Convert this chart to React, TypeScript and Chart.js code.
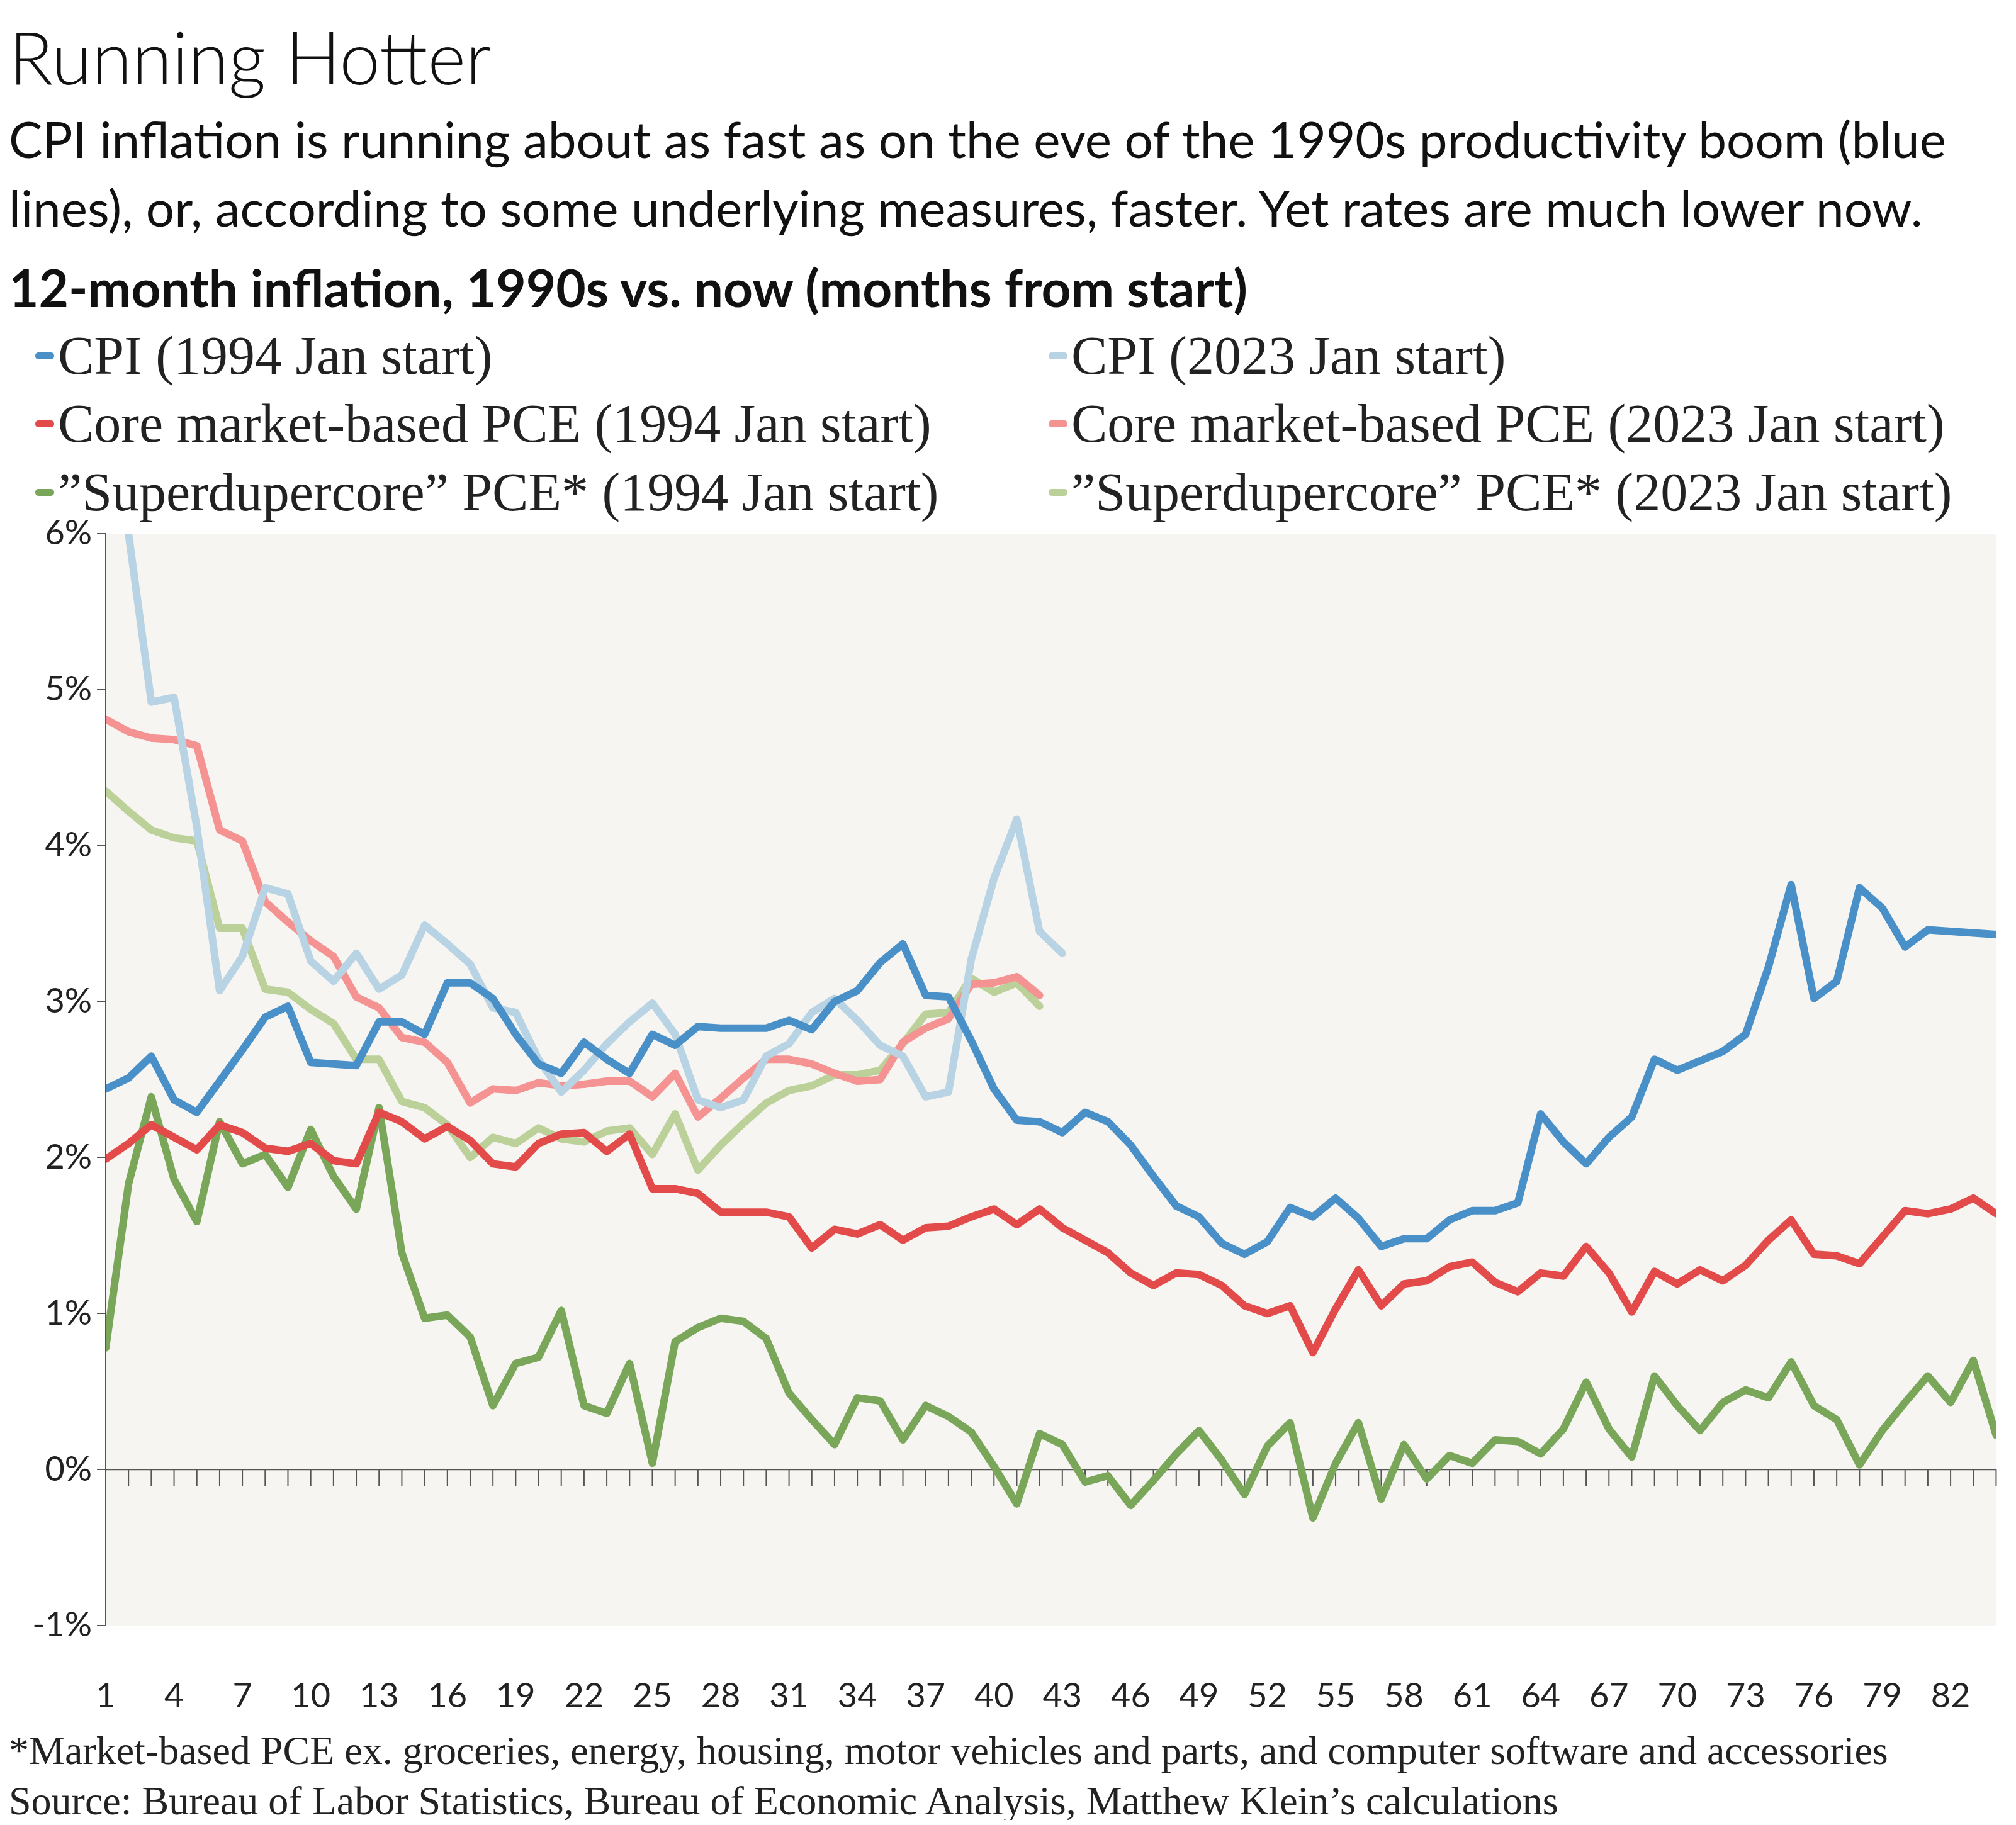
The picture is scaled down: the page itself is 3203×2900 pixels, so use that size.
import React, { useEffect, useRef } from "react";
import { Chart, registerables } from "chart.js";
Chart.register(...registerables);

const months = Array.from({ length: 84 }, (_, i) => i + 1);
const yTicks = [-1, 0, 1, 2, 3, 4, 5, 6];

const cpi1994 = [2.44,2.51,2.65,2.37,2.29,2.49,2.69,2.9,2.97,2.61,2.6,2.59,2.87,2.87,2.79,3.12,3.12,3.02,2.79,2.6,2.54,2.74,2.63,2.54,2.79,2.72,2.84,2.83,2.83,2.83,2.88,2.82,3.0,3.07,3.25,3.37,3.04,3.03,2.75,2.44,2.24,2.23,2.16,2.29,2.23,2.08,1.88,1.69,1.62,1.45,1.38,1.46,1.68,1.62,1.74,1.61,1.43,1.48,1.48,1.6,1.66,1.66,1.71,2.28,2.1,1.96,2.13,2.26,2.63,2.56,2.62,2.68,2.79,3.22,3.75,3.02,3.13,3.73,3.6,3.35,3.46,3.45,3.44,3.43];
const cpi2023 = [6.4,6.0,4.92,4.95,4.12,3.07,3.29,3.73,3.69,3.26,3.13,3.31,3.08,3.17,3.49,3.37,3.24,2.96,2.93,2.63,2.42,2.56,2.73,2.87,2.99,2.79,2.37,2.32,2.37,2.65,2.73,2.93,3.02,2.88,2.72,2.65,2.39,2.42,3.27,3.79,4.17,3.45,3.31];
const core1994 = [1.99,2.09,2.21,2.13,2.05,2.21,2.16,2.06,2.04,2.09,1.98,1.96,2.29,2.23,2.12,2.2,2.11,1.96,1.94,2.09,2.15,2.16,2.04,2.15,1.8,1.8,1.77,1.65,1.65,1.65,1.62,1.42,1.54,1.51,1.57,1.47,1.55,1.56,1.62,1.67,1.57,1.67,1.55,1.47,1.39,1.26,1.18,1.26,1.25,1.18,1.05,1.0,1.05,0.75,1.03,1.28,1.05,1.19,1.21,1.3,1.33,1.2,1.14,1.26,1.24,1.43,1.26,1.01,1.27,1.19,1.28,1.21,1.31,1.47,1.6,1.38,1.37,1.32,1.49,1.66,1.64,1.67,1.74,1.64];
const core2023 = [4.81,4.73,4.69,4.68,4.64,4.1,4.03,3.64,3.51,3.39,3.29,3.03,2.96,2.77,2.74,2.61,2.35,2.44,2.43,2.48,2.46,2.47,2.49,2.49,2.39,2.54,2.26,2.38,2.51,2.63,2.63,2.6,2.54,2.49,2.5,2.74,2.83,2.89,3.11,3.12,3.16,3.04];
const sdc1994 = [0.78,1.83,2.39,1.86,1.59,2.23,1.96,2.02,1.81,2.18,1.88,1.67,2.32,1.39,0.97,0.99,0.85,0.41,0.68,0.72,1.02,0.41,0.36,0.68,0.04,0.82,0.91,0.97,0.95,0.84,0.49,0.32,0.16,0.46,0.44,0.19,0.41,0.34,0.24,0.02,-0.22,0.23,0.16,-0.08,-0.04,-0.23,-0.07,0.1,0.25,0.06,-0.16,0.15,0.3,-0.31,0.04,0.3,-0.19,0.16,-0.06,0.09,0.04,0.19,0.18,0.1,0.26,0.56,0.26,0.08,0.6,0.41,0.25,0.43,0.51,0.46,0.69,0.41,0.32,0.03,0.25,0.43,0.6,0.43,0.7,0.22];
const sdc2023 = [4.35,4.22,4.1,4.05,4.03,3.47,3.47,3.08,3.06,2.95,2.86,2.63,2.63,2.36,2.32,2.21,2.0,2.13,2.09,2.19,2.12,2.1,2.17,2.19,2.02,2.28,1.92,2.08,2.22,2.35,2.43,2.46,2.53,2.53,2.56,2.73,2.92,2.93,3.15,3.06,3.12,2.97];

const seriesNames = [
  "CPI (1994 Jan start)",
  "CPI (2023 Jan start)",
  "Core market-based PCE (1994 Jan start)",
  "Core market-based PCE (2023 Jan start)",
  "\u201dSuperdupercore\u201d PCE* (1994 Jan start)",
  "\u201dSuperdupercore\u201d PCE* (2023 Jan start)",
];
const seriesData = [cpi1994, cpi2023, core1994, core2023, sdc1994, sdc2023];
const colors = ["#4a90c8", "#b8d3e3", "#e34a4a", "#f59292", "#7aa65a", "#bcd09a"];
const drawOrder = [1, 3, 5, 0, 2, 4];

const SANS = "Lato, 'Open Sans', sans-serif";
const SERIF = "'Liberation Serif', 'DejaVu Serif', serif";

export default function App() {
  const ref = useRef<HTMLCanvasElement>(null);
  useEffect(() => {
    const bg = {
      id: "bg",
      beforeDatasetsDraw(chart: any) {
        const { ctx, chartArea: a, scales } = chart;
        ctx.save();
        ctx.fillStyle = "#f6f5f1";
        ctx.fillRect(a.left, a.top, a.right - a.left, a.bottom - a.top);
        const y0 = scales.y.getPixelForValue(0);
        ctx.strokeStyle = "#555";
        ctx.lineWidth = 2;
        ctx.beginPath();
        ctx.moveTo(a.left, y0);
        ctx.lineTo(a.right, y0);
        for (const m of months) {
          const x = scales.x.getPixelForValue(m);
          ctx.moveTo(x, y0);
          ctx.lineTo(x, y0 + 26);
        }
        ctx.stroke();
        ctx.restore();
      },
    };
    const chart = new Chart(ref.current!, {
      type: "line",
      data: {
        datasets: drawOrder.map((i) => ({
          label: seriesNames[i],
          data: seriesData[i].map((v, k) => ({ x: months[k], y: v })),
          borderColor: colors[i],
          borderWidth: 12,
          pointRadius: 0,
          tension: 0,
          borderJoinStyle: "round" as const,
          borderCapStyle: "round" as const,
          order: i,
        })),
      },
      options: {
        animation: false,
        responsive: false,
        layout: { padding: { top: 48, right: 25, left: 0, bottom: 0 } },
        plugins: { legend: { display: false }, tooltip: { enabled: false } },
        scales: {
          x: {
            type: "linear",
            min: 1,
            max: 84,
            afterFit: (s: any) => { s.height = 157; },
            grid: { display: false },
            border: { display: false },
            ticks: { stepSize: 3, color: "#222", font: { family: SANS, size: 54 }, padding: 72, maxRotation: 0, autoSkip: false },
            afterBuildTicks: (s: any) => { s.ticks = months.filter((m) => (m - 1) % 3 === 0).map((v) => ({ value: v })); },
          },
          y: {
            min: -1,
            max: 6,
            afterFit: (s: any) => { s.width = 168; },
            afterBuildTicks: (s: any) => { s.ticks = yTicks.map((v) => ({ value: v })); },
            grid: { drawOnChartArea: false, tickLength: 14, color: "#555", lineWidth: 2 },
            border: { display: true, color: "#555", width: 2 },
            ticks: { color: "#222", font: { family: SANS, size: 54 }, padding: 8, callback: (v: any) => `${v}%` },
          },
        },
      },
      plugins: [bg],
    });
    return () => chart.destroy();
  }, []);

  const legendRow = (i: number, left: number, top: number) => (
    <div key={i} style={{ position: "absolute", left, top, display: "flex", alignItems: "center", whiteSpace: "nowrap" }}>
      <span style={{ display: "inline-block", width: 30, height: 11, background: colors[i], borderRadius: 5, marginRight: 6 }} />
      <span style={{ fontFamily: SERIF, fontSize: 86, color: "#222", lineHeight: "90px" }}>{seriesNames[i]}</span>
    </div>
  );

  return (
    <div style={{ position: "relative", width: 3203, height: 2900, margin: -8, background: "#fff", overflow: "hidden" }}>
      <div style={{ position: "absolute", left: 14, top: 28, fontFamily: SANS, fontWeight: 300, fontSize: 116, color: "#111", lineHeight: "124px" }}>Running Hotter</div>
      <div style={{ position: "absolute", left: 14, top: 166, width: 3110, fontFamily: SANS, fontSize: 80, color: "#111", lineHeight: "109px" }}>
        CPI inflation is running about as fast as on the eve of the 1990s productivity boom (blue lines), or, according to some underlying measures, faster. Yet rates are much lower now.
      </div>
      <div style={{ position: "absolute", left: 14, top: 410, fontFamily: SANS, fontWeight: 700, fontSize: 82, color: "#111", lineHeight: "92px" }}>
        12-month inflation, 1990s vs. now (months from start)
      </div>
      {legendRow(0, 56, 520)}
      {legendRow(1, 1666, 520)}
      {legendRow(2, 56, 628)}
      {legendRow(3, 1666, 628)}
      {legendRow(4, 56, 737)}
      {legendRow(5, 1666, 737)}
      <canvas ref={ref} width={3203} height={1940} style={{ position: "absolute", left: 0, top: 800, width: 3203, height: 1940 }} />
      <div style={{ position: "absolute", left: 14, top: 2742, fontFamily: SERIF, fontSize: 64, color: "#222", lineHeight: "80px" }}>
        *Market-based PCE ex. groceries, energy, housing, motor vehicles and parts, and computer software and accessories<br />
        Source: Bureau of Labor Statistics, Bureau of Economic Analysis, Matthew Klein’s calculations
      </div>
    </div>
  );
}
